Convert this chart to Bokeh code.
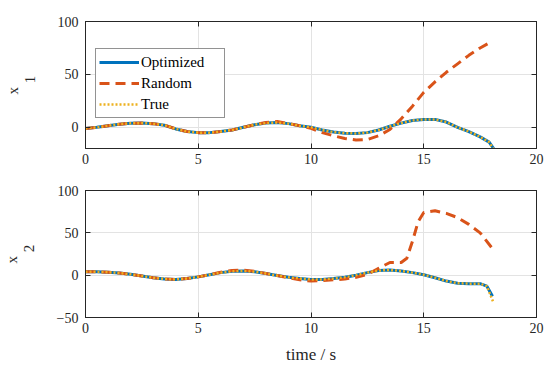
from bokeh.plotting import figure
from bokeh.layouts import column
from bokeh.models import (LinearAxis, Legend, LegendItem, FixedTicker, Range1d,
                          CustomJSTickFormatter)
from bokeh.embed import file_html
from bokeh.resources import INLINE

# ---- data: x1 ----
t1_opt = [0, 0.5, 1, 1.5, 2, 2.5, 3, 3.5, 4, 4.5, 5, 5.5, 6, 6.5, 7, 7.5, 8, 8.5, 9, 9.5,
          10, 10.5, 11, 11.5, 12, 12.5, 13, 13.5, 14, 14.5, 15, 15.5, 16, 16.5, 17, 17.5, 17.9, 18.1]
x1_opt = [-1, 0, 1.5, 3, 3.8, 4, 3.5, 2, -1.5, -4, -5, -5, -4, -2.5, 0, 2.5, 4, 4.5, 3.5, 1.5,
          0, -2.5, -4.5, -5.5, -5.8, -5, -2.5, 1, 4, 6.5, 7.5, 7.5, 5, 0, -4, -9, -14, -20]
x1_true = [-1, 0, 1.5, 3, 3.8, 4, 3.5, 2, -1.5, -4, -5, -5, -4, -2.5, 0, 2.5, 4, 4.5, 3.5, 1.5,
           0, -2.5, -4.5, -5.5, -5.8, -5, -2.5, 1, 4, 6.5, 7.5, 7.5, 5, 0, -4, -9, -14, -21]
t1_rnd = [0, 0.5, 1, 1.5, 2, 2.5, 3, 3.5, 4, 4.5, 5, 5.5, 6, 6.5, 7, 7.5, 8, 8.5, 9, 9.5,
          10, 10.5, 11, 11.5, 12, 12.5, 13, 13.5, 14, 14.5, 15, 15.5, 16, 16.5, 17, 17.5, 18]
x1_rnd = [-1, 0, 1.5, 3, 3.8, 4, 3.5, 2, -1.5, -4, -5, -5, -4, -2.5, 0, 2.5, 4.5, 5.5, 3.5, 1.5,
          -1, -5, -8, -10.5, -12, -11.5, -8, -2, 8, 20, 33, 43, 52, 60, 68, 75, 81]

# ---- data: x2 ----
t2_opt = [0, 0.5, 1, 1.5, 2, 2.5, 3, 3.5, 4, 4.5, 5, 5.5, 6, 6.5, 7, 7.5, 8, 8.5, 9, 9.5,
          10, 10.5, 11, 11.5, 12, 12.5, 13, 13.5, 14, 14.5, 15, 15.5, 16, 16.5, 17, 17.5, 17.8, 18.05]
x2_opt = [4, 4, 3.5, 2.5, 1, -1, -3, -4.5, -5, -4, -2, 0.5, 3, 4.5, 5, 4, 2, -0.5, -2.5, -4,
          -5, -5, -4, -2.5, 0, 3, 5.5, 6, 5, 3, 0.5, -3, -7, -9.5, -10, -10, -13, -25]
t2_true = [0, 0.5, 1, 1.5, 2, 2.5, 3, 3.5, 4, 4.5, 5, 5.5, 6, 6.5, 7, 7.5, 8, 8.5, 9, 9.5,
           10, 10.5, 11, 11.5, 12, 12.5, 13, 13.5, 14, 14.5, 15, 15.5, 16, 16.5, 17, 17.5, 17.8, 18.1]
x2_true = [4, 4, 3.5, 2.5, 1, -1, -3, -4.5, -5, -4, -2, 0.5, 3, 4.5, 5, 4, 2, -0.5, -2.5, -4,
           -5, -5, -4, -2.5, 0, 3, 5.5, 6, 5, 3, 0.5, -3, -7, -9.5, -10, -10, -13, -33]
t2_rnd = [0, 0.5, 1, 1.5, 2, 2.5, 3, 3.5, 4, 4.5, 5, 5.5, 6, 6.5, 7, 7.5, 8, 8.5, 9, 9.5,
          10, 10.5, 11, 11.5, 12, 12.5, 13, 13.5, 14, 14.25, 14.5, 14.75, 15, 15.5, 16, 16.5, 17, 17.5, 18]
x2_rnd = [4, 4, 3.5, 2.5, 1, -1, -3, -4.5, -5, -4, -2, 0.5, 3.5, 5.5, 6, 4.5, 2, -0.5, -3, -5.5,
          -7, -6.5, -5.5, -4.5, -2.5, 1, 8, 15, 15, 20, 40, 63, 74, 76, 73, 68, 60, 50, 33]

x_ticks = [0, 5, 10, 15, 20]
y1_ticks = [0, 50, 100]
y2_ticks = [-50, 0, 50, 100]

BLUE = "#0072BD"
ORANGE = "#D95319"
YELLOW = "#EDB120"
FONT = "Liberation Serif"
AX = "#262626"
NB = "\u00a0"


def make_fig(yr, yticks, top, bottom, sub, xlabel=None):
    p = figure(frame_width=451, frame_height=127,
               x_range=Range1d(0, 20), y_range=Range1d(*yr),
               output_backend="svg", toolbar_location=None,
               min_border_left=85, min_border_right=8,
               min_border_top=top, min_border_bottom=bottom,
               background_fill_color="white", border_fill_color="white")
    p.outline_line_color = AX
    p.outline_line_width = 1
    p.xaxis.ticker = FixedTicker(ticks=x_ticks)
    p.yaxis.ticker = FixedTicker(ticks=yticks)
    for axes in (p.xaxis, p.yaxis):
        axes.major_tick_in = 5
        axes.major_tick_out = 0
        axes.minor_tick_line_color = None
        axes.axis_line_color = AX
        axes.major_tick_line_color = AX
        axes.major_label_text_font = FONT
        axes.major_label_text_font_size = "14px"
        axes.major_label_text_color = AX
    p.xaxis.major_label_standoff = 5
    p.yaxis.major_label_standoff = 7
    p.yaxis.axis_label = "x" + NB * 3 + "\n" + NB * 3 + sub
    p.yaxis.axis_label_text_font = FONT
    p.yaxis.axis_label_text_font_style = "normal"
    p.yaxis.axis_label_text_font_size = "15px"
    p.yaxis.axis_label_text_line_height = 1.05
    p.yaxis.axis_label_text_color = AX
    p.yaxis.axis_label_standoff = 17
    if xlabel:
        p.xaxis.axis_label = xlabel
        p.xaxis.axis_label_text_font = FONT
        p.xaxis.axis_label_text_font_style = "normal"
        p.xaxis.axis_label_text_font_size = "17px"
        p.xaxis.axis_label_standoff = 9
        p.xaxis.axis_label_text_color = AX
    blank = CustomJSTickFormatter(code="return ''")
    ra = LinearAxis(ticker=FixedTicker(ticks=yticks), formatter=blank,
                    major_tick_in=5, major_tick_out=0, minor_tick_line_color=None,
                    axis_line_color=AX, major_tick_line_color=AX,
                    major_label_standoff=0)
    ta = LinearAxis(ticker=FixedTicker(ticks=x_ticks), formatter=blank,
                    major_tick_in=5, major_tick_out=0, minor_tick_line_color=None,
                    axis_line_color=AX, major_tick_line_color=AX,
                    major_label_standoff=0)
    p.add_layout(ra, "right")
    p.add_layout(ta, "above")
    p.xgrid.ticker = FixedTicker(ticks=x_ticks)
    p.ygrid.ticker = FixedTicker(ticks=yticks)
    p.grid.grid_line_color = "#e3e3e3"
    p.grid.grid_line_width = 1
    return p


p1 = make_fig((-20, 100), y1_ticks, 21, 27, "1")
r1 = p1.line(t1_opt, x1_opt, line_color=BLUE, line_width=3)
r2 = p1.line(t1_rnd, x1_rnd, line_color=ORANGE, line_width=3, line_dash="10 6")
r3 = p1.line(t1_opt, x1_true, line_color=YELLOW, line_width=2.5, line_dash="2 2")

legend = Legend(items=[LegendItem(label="Optimized", renderers=[r1]),
                       LegendItem(label="Random", renderers=[r2]),
                       LegendItem(label="True", renderers=[r3])],
                location=(10, 30))
legend.label_text_font = FONT
legend.label_text_font_size = "15px"
legend.label_text_color = "#000000"
legend.border_line_color = AX
legend.border_line_width = 1
legend.glyph_width = 40
legend.glyph_height = 20
legend.label_height = 20
legend.label_width = 80
legend.spacing = 1
legend.padding = 3
legend.margin = 0
legend.label_standoff = 2
legend.background_fill_alpha = 1
p1.add_layout(legend)

p2 = make_fig((-50, 100), y2_ticks, 15, 48, "2", xlabel="time / s")
p2.line(t2_opt, x2_opt, line_color=BLUE, line_width=3)
p2.line(t2_rnd, x2_rnd, line_color=ORANGE, line_width=3, line_dash="10 6")
p2.line(t2_true, x2_true, line_color=YELLOW, line_width=2.5, line_dash="2 2")

layout = column(p1, p2, spacing=0)
open("out.html", "w").write(file_html(layout, INLINE))
